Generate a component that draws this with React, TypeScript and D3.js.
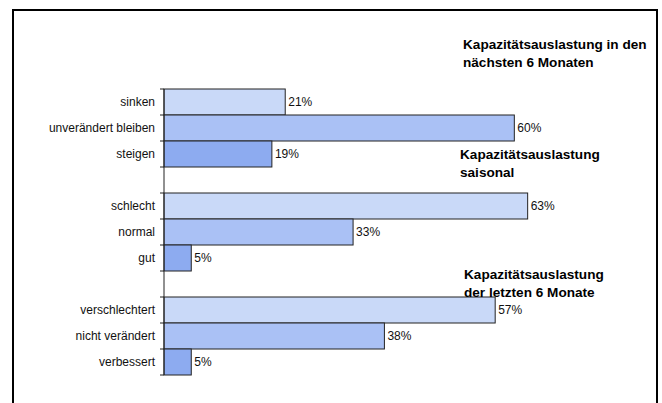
import React, { useEffect, useRef } from "react";
import * as d3 from "d3";

// rows from top to bottom, "" = spacer between groups
const categories = [
  "sinken",
  "unverändert bleiben",
  "steigen",
  "",
  "schlecht",
  "normal",
  "gut",
  "",
  "verschlechtert",
  "nicht verändert",
  "verbessert",
];
// shares in percent (labels show rounded values)
const values = [20.9, 60.4, 18.6, null, 62.7, 32.6, 4.7, null, 57.1, 38.0, 4.7];
const shades = ["#C9D9F8", "#AAC1F5", "#8DABF0"];

const groupTitles = [
  { lines: ["Kapazitätsauslastung in den", "nächsten 6 Monaten"], x: 463, y: 49 },
  { lines: ["Kapazitätsauslastung", "saisonal"], x: 460, y: 159 },
  { lines: ["Kapazitätsauslastung", "der letzten 6 Monate"], x: 464, y: 279 },
];

const W = 662;
const H = 403;
const font = "'Liberation Sans', Arial, sans-serif";

export default function App() {
  const ref = useRef<SVGSVGElement>(null);

  useEffect(() => {
    const svg = d3.select(ref.current);
    svg.selectAll("*").remove();

    const rows = categories.map((c, i) => ({ key: `r${i}`, label: c, value: values[i], idx: i }));

    const y = d3
      .scaleBand()
      .domain(rows.map((r) => r.key))
      .range([89, 375])
      .padding(0);
    const x = d3.scaleLinear().domain([0, 100]).range([164, 744]);

    // outer frame
    svg
      .append("rect")
      .attr("x", 13)
      .attr("y", 10)
      .attr("width", 644)
      .attr("height", 420)
      .attr("fill", "white")
      .attr("stroke", "#000")
      .attr("stroke-width", 2);

    const bars = rows.filter((r) => r.value !== null);

    svg
      .append("g")
      .selectAll("rect")
      .data(bars)
      .enter()
      .append("rect")
      .attr("x", x(0))
      .attr("y", (d) => y(d.key)!)
      .attr("width", (d) => x(d.value as number) - x(0))
      .attr("height", y.bandwidth())
      .attr("fill", (d) => shades[d.idx % 4])
      .attr("stroke", "#222")
      .attr("stroke-width", 1);

    svg
      .append("g")
      .selectAll("text")
      .data(bars)
      .enter()
      .append("text")
      .attr("x", (d) => x(d.value as number) + 3)
      .attr("y", (d) => y(d.key)! + y.bandwidth() / 2)
      .attr("dy", "0.35em")
      .style("font-family", font)
      .style("font-size", "12px")
      .attr("fill", "#111")
      .text((d) => `${Math.round(d.value as number)}%`);

    // axis line with ticks on band boundaries
    const axis = svg.append("g");
    axis
      .append("line")
      .attr("x1", x(0))
      .attr("x2", x(0))
      .attr("y1", 89)
      .attr("y2", 375)
      .attr("stroke", "#222");
    d3.range(rows.length + 1).forEach((i) => {
      const yy = 89 + i * y.bandwidth();
      axis
        .append("line")
        .attr("x1", x(0) - 4)
        .attr("x2", x(0))
        .attr("y1", yy)
        .attr("y2", yy)
        .attr("stroke", "#222");
    });

    svg
      .append("g")
      .selectAll("text")
      .data(rows)
      .enter()
      .append("text")
      .attr("x", 155)
      .attr("y", (d) => y(d.key)! + y.bandwidth() / 2)
      .attr("dy", "0.35em")
      .attr("text-anchor", "end")
      .style("font-family", font)
      .style("font-size", "12px")
      .attr("fill", "#111")
      .text((d) => d.label);

    groupTitles.forEach((t) => {
      const txt = svg
        .append("text")
        .attr("x", t.x)
        .attr("y", t.y)
        .style("font-family", font)
        .style("font-size", "13.6px")
        .style("font-weight", "bold")
        .attr("fill", "#000");
      t.lines.forEach((l, i) => {
        txt.append("tspan").attr("x", t.x).attr("dy", i === 0 ? 0 : 18).text(l);
      });
    });
  }, []);

  return (
    <svg
      ref={ref}
      width={W}
      height={H}
      style={{ position: "absolute", left: 0, top: 0, background: "white" }}
    />
  );
}
